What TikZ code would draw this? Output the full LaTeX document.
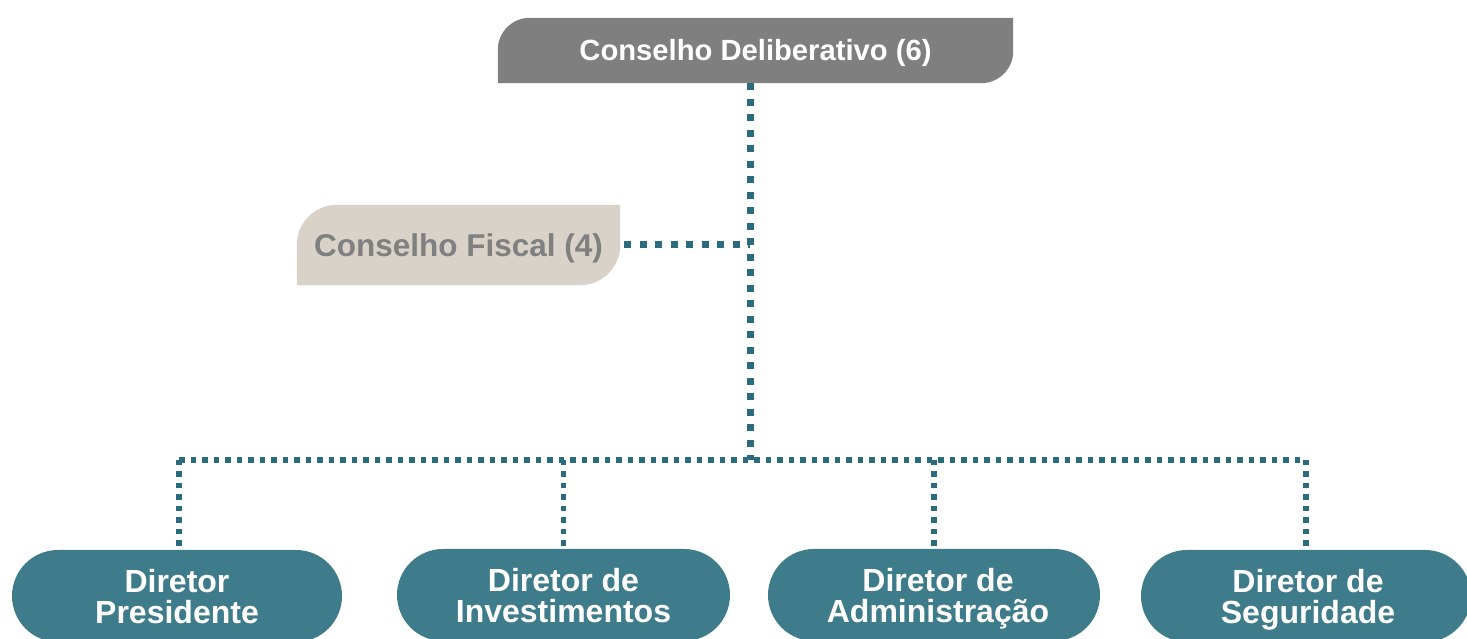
\documentclass[tikz,border=0pt]{standalone}
\usepackage{fontspec}
\setmainfont{Liberation Sans}
\usetikzlibrary{shapes.misc,backgrounds}
\definecolor{boxteal}{HTML}{3E7B8B}
\definecolor{dotteal}{HTML}{2A6C7D}
\definecolor{topgray}{HTML}{7F7F7F}
\definecolor{fiscfill}{HTML}{D8D2C8}
\definecolor{fisctext}{HTML}{808080}
\begin{document}
\begin{tikzpicture}[x=1pt,y=1pt,
  dirbox/.style={rounded rectangle, fill=boxteal, text=white,
    font=\bfseries\fontsize{32}{31}\selectfont, align=center,
    minimum height=92pt, inner sep=0pt},
  link/.style={draw=dotteal, line width=7pt, dash pattern=on 7pt off 8.5pt},
  sublink/.style={draw=dotteal, line width=5.5pt, dash pattern=on 5.5pt off 6pt},
]
\useasboundingbox (0,0) rectangle (1467,639);
\clip (0,0) rectangle (1467,639);

% top box
\node[text=white, font=\bfseries\fontsize{29.2}{30}\selectfont, text depth=2pt,
  minimum width=515pt, minimum height=65pt, inner sep=0pt] (cd) at (755.5,588.5) {Conselho Deliberativo (6)};
% fiscal box
\node[text=fisctext, font=\bfseries\fontsize{31.5}{33}\selectfont, text depth=0pt,
  minimum width=323pt, minimum height=80pt, inner sep=0pt] (cf) at (458.5,394) {Conselho Fiscal (4)};

% directors
\node[dirbox, minimum width=330pt] (d1) at (177,43) {Diretor\\\smash{Presidente}};
\node[dirbox, minimum width=333pt] (d2) at (563.5,44) {Diretor de\\\smash{Investimentos}};
\node[dirbox, minimum width=332pt] (d3) at (934,44) {\hspace*{8pt}Diretor de\\\hspace*{8pt}\smash{Administração}};
\node[dirbox, minimum width=330pt] (d4) at (1306,43) {\hspace*{4pt}Diretor de\\\hspace*{4pt}\smash{Seguridade}};

\coordinate (bus) at (750,179);

\begin{scope}[on background layer]
\fill[topgray] (cd.south west) -- ([yshift=-32pt]cd.north west)
  arc[start angle=180,end angle=90,radius=32pt] -- (cd.north east)
  -- ([yshift=32pt]cd.south east) arc[start angle=0,end angle=-90,radius=32pt] -- cycle;
\fill[fiscfill] (cf.south west) -- ([yshift=-40pt]cf.north west)
  arc[start angle=180,end angle=90,radius=40pt] -- (cf.north east)
  -- ([yshift=40pt]cf.south east) arc[start angle=0,end angle=-90,radius=40pt] -- cycle;
\end{scope}

% connectors
\coordinate (t1) at ([xshift=2pt]d1.north);
\draw[link] (cd.south -| bus) -- (bus);
\draw[link] ([xshift=4pt]cf.east) -- (cf.east -| bus);
\draw[sublink] (t1 |- bus) -- (d4.north |- bus);
\draw[sublink] (t1 |- bus) -- (t1);
\draw[sublink] (d2.north |- bus) -- (d2.north);
\draw[sublink] (d3.north |- bus) -- (d3.north);
\draw[sublink] (d4.north |- bus) -- (d4.north);
\end{tikzpicture}
\end{document}
